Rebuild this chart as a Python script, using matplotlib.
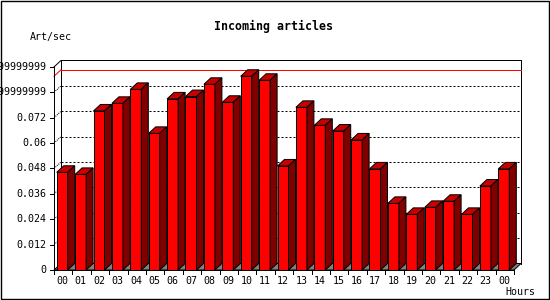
import matplotlib
matplotlib.use("Agg")
import matplotlib.pyplot as plt
from matplotlib.patches import Polygon, Rectangle

# hourly incoming article rate (articles / sec)
hours = ["00", "01", "02", "03", "04", "05", "06", "07", "08", "09", "10", "11",
         "12", "13", "14", "15", "16", "17", "18", "19", "20", "21", "22", "23", "00"]
rates = [0.0462, 0.0452, 0.0752, 0.0788, 0.0854, 0.0646, 0.0809, 0.0820, 0.0878,
         0.0793, 0.0916, 0.0897, 0.0492, 0.0769, 0.0684, 0.0657, 0.0615, 0.0478,
         0.0315, 0.0263, 0.0296, 0.0325, 0.0263, 0.0397, 0.0478]
y_ticks = [0, 0.012, 0.024, 0.036, 0.048, 0.06, 0.072, 0.084, 0.096]
y_tick_labels = ["0", "0.012", "0.024", "0.036", "0.048", "0.06", "0.072",
                 "0.0839999999999", "0.0959999999999"]

# pixel scale of the old gd chart: 18.4 px per bar, 2115 px per unit
PX_X = 18.4
PX_Y = 2115.0
dx = 7 / PX_X          # 3d depth
dy = 6.5 / PX_Y
lw = 0.72              # 1 px
mono = "DejaVu Sans Mono"

fig = plt.figure(figsize=(5.5, 3), dpi=100)
fig.patch.set_facecolor("white")
ax = fig.add_axes([0, 0, 1, 1])
ax.set_xlim(-54 / PX_X, 496 / PX_X)
ax.set_ylim(-30 / PX_Y, 270 / PX_Y)
ax.axis("off")

n = len(rates)
top = y_ticks[-1]

# floor
ax.add_patch(Polygon([(0, 0), (n, 0), (n + dx, dy), (dx, dy)], closed=True,
                     facecolor="#808080", edgecolor="black", lw=lw, zorder=1))
# back wall
ax.plot([dx, dx, n + dx, n + dx], [dy, top + dy, top + dy, dy], color="black", lw=lw, zorder=2)
ax.plot([0, dx], [top, top + dy], color="black", lw=lw, zorder=2)

# dotted grid on the back wall
for t in y_ticks[1:-1]:
    ax.plot([dx, n + dx], [t + dy, t + dy], color="black", lw=lw,
            linestyle=(0, (2, 2)), zorder=2)
    ax.plot([0, dx], [t, t + dy], color="black", lw=lw,
            linestyle=(0, (1, 1)), zorder=2)

# max line
mx = max(rates)
ax.plot([dx, n + dx], [mx + dy, mx + dy], color="#ff0000", lw=lw, zorder=2)
ax.plot([0, dx], [mx, mx + dy], color="#ff0000", lw=lw, zorder=2)

# 3d bars
x_off = 2.7 / PX_X
w = 11 / PX_X
for i, v in enumerate(rates):
    x0 = i + x_off
    x1 = x0 + w
    ax.add_patch(Rectangle((x0, 0), w, v, facecolor="#ff0000", edgecolor="black",
                           lw=lw, zorder=3))
    ax.add_patch(Polygon([(x0, v), (x1, v), (x1 + dx, v + dy), (x0 + dx, v + dy)],
                         closed=True, facecolor="#c80000", edgecolor="black", lw=lw, zorder=3))
    ax.add_patch(Polygon([(x1, 0), (x1 + dx, dy), (x1 + dx, v + dy), (x1, v)],
                         closed=True, facecolor="#800000", edgecolor="black", lw=lw, zorder=3))

# front axes
ax.plot([0, 0], [0, top], color="black", lw=lw, zorder=4)
ax.plot([0, n], [0, 0], color="black", lw=lw, zorder=4)

for t, lab in zip(y_ticks, y_tick_labels):
    ax.plot([-4 / PX_X, 0], [t, t], color="black", lw=lw, zorder=4)
    ax.text(-7.5 / PX_X, t, lab, ha="right", va="center", fontsize=7.2,
            family=mono, zorder=4)

for i in range(n + 1):
    ax.plot([i, i], [0, -4 / PX_Y], color="black", lw=lw, zorder=4)
for i, lab in enumerate(hours):
    ax.text(i + 0.46, -10.5 / PX_Y, lab, ha="center", va="center", fontsize=7.2,
            family=mono, zorder=4)

fig.text(274 / 550, 1 - 26.7 / 300, "Incoming articles", ha="center", va="center",
         fontsize=8.4, fontweight="bold", family=mono)
fig.text(30 / 550, 1 - 36.7 / 300, "Art/sec", ha="left", va="center",
         fontsize=7.2, family=mono)
fig.text(505 / 550, 1 - 292 / 300, "Hours", ha="left", va="center",
         fontsize=7.2, family=mono)

# image border
fig.patches.append(Rectangle((0.6 / 550, 0.6 / 300), 548.6 / 550, 298.6 / 300,
                             transform=fig.transFigure, fill=False,
                             edgecolor="black", lw=1.0))

fig.savefig("out.png", dpi=100)
